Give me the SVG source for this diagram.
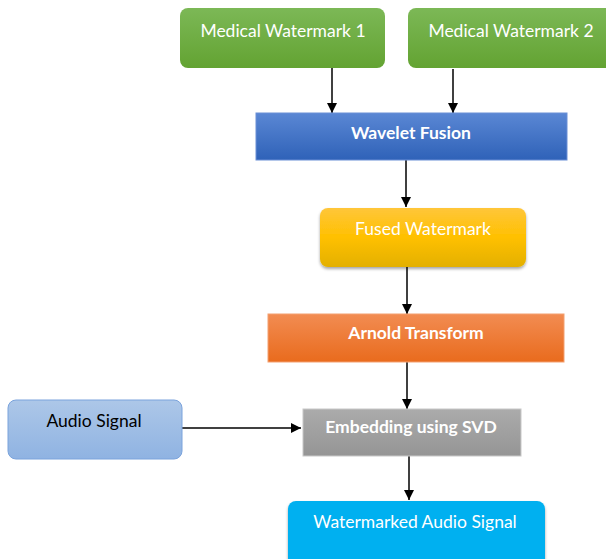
<svg xmlns="http://www.w3.org/2000/svg" width="606" height="559" viewBox="0 0 606 559">
<defs>
<linearGradient id="gGreen" x1="0" y1="0" x2="0" y2="1"><stop offset="0" stop-color="#7cb856"/><stop offset="1" stop-color="#63a332"/></linearGradient>
<linearGradient id="gBlue" x1="0" y1="0" x2="0" y2="1"><stop offset="0" stop-color="#5a87d4"/><stop offset="1" stop-color="#2f62b8"/></linearGradient>
<linearGradient id="gGold" x1="0" y1="0" x2="0" y2="1"><stop offset="0" stop-color="#ffc63a"/><stop offset="0.5" stop-color="#ffc000"/><stop offset="1" stop-color="#e3b000"/></linearGradient>
<linearGradient id="gOrange" x1="0" y1="0" x2="0" y2="1"><stop offset="0" stop-color="#f28c52"/><stop offset="1" stop-color="#e96b1d"/></linearGradient>
<linearGradient id="gGray" x1="0" y1="0" x2="0" y2="1"><stop offset="0" stop-color="#ababab"/><stop offset="1" stop-color="#959595"/></linearGradient>
<linearGradient id="gLight" x1="0" y1="0" x2="0" y2="1"><stop offset="0" stop-color="#adc7e8"/><stop offset="1" stop-color="#8fb3e2"/></linearGradient>
<filter id="sh" x="-10%" y="-10%" width="120%" height="130%"><feDropShadow dx="0" dy="2" stdDeviation="1.5" flood-color="#000" flood-opacity="0.35"/></filter>
<marker id="arr" viewBox="0 0 10 10" refX="10" refY="5" markerWidth="10" markerHeight="10" markerUnits="userSpaceOnUse" orient="auto"><path d="M0,0 L10,5 L0,10 z" fill="#000"/></marker>
</defs>
<style>
.t{font-family:"Lato","Open Sans",sans-serif;font-size:17.5px;text-anchor:middle;fill:#fff}
.b{font-weight:bold}
.k{fill:#000}
.c{stroke:#000;stroke-width:1.5;fill:none;marker-end:url(#arr)}
</style>
<rect width="606" height="559" fill="#fff"/>
<g id="connectors">
<line class="c" x1="332" y1="68" x2="332" y2="113"/>
<line class="c" x1="453" y1="69" x2="453" y2="113"/>
<line class="c" x1="406" y1="160" x2="406" y2="207"/>
<line class="c" x1="407" y1="267" x2="407" y2="314"/>
<line class="c" x1="407" y1="362" x2="407" y2="409"/>
<line class="c" x1="182" y1="428" x2="301" y2="428"/>
<line class="c" x1="409" y1="456" x2="409" y2="500"/>
</g>
<g id="mw1"><rect x="180" y="8" width="205" height="60" rx="8" fill="url(#gGreen)"/><text class="t" x="283" y="37">Medical Watermark 1</text></g>
<g id="mw2"><rect x="408" y="8" width="206" height="60" rx="8" fill="url(#gGreen)"/><text class="t" x="511" y="37">Medical Watermark 2</text></g>
<g id="wavelet"><rect x="256" y="113" width="311" height="47" fill="url(#gBlue)" stroke="#6a8fd6" stroke-width="1"/><text class="t b" x="411" y="139">Wavelet Fusion</text></g>
<g id="fused"><rect x="320" y="208" width="206" height="59" rx="8" fill="url(#gGold)" filter="url(#sh)"/><text class="t" x="423" y="235">Fused Watermark</text></g>
<g id="arnold"><rect x="268" y="314" width="296" height="48" fill="url(#gOrange)" stroke="#f3a070" stroke-width="1"/><text class="t b" x="416" y="339">Arnold Transform</text></g>
<g id="audio"><rect x="8" y="400" width="174" height="59" rx="8" fill="url(#gLight)" stroke="#7aa3dc" stroke-width="1"/><text class="t k" x="94" y="427">Audio Signal</text></g>
<g id="embed"><rect x="303" y="409" width="218" height="47" fill="url(#gGray)" stroke="#c8c8c8" stroke-width="1"/><text class="t b" x="411" y="433">Embedding using SVD</text></g>
<g id="wmaudio"><rect x="288" y="501" width="257" height="66" rx="8" fill="#00b0f0" filter="url(#sh)"/><text class="t" x="415" y="528">Watermarked Audio Signal</text></g>
</svg>
